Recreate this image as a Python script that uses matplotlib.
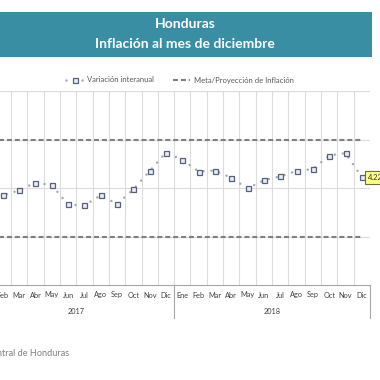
import matplotlib
matplotlib.use("Agg")
import matplotlib.pyplot as plt
from matplotlib.lines import Line2D
from matplotlib.patches import Rectangle
import matplotlib.transforms as mtransforms

plt.rcParams['font.family'] = ['Lato', 'DejaVu Sans']

# ---- data ----
months = ["Ene", "Feb", "Mar", "Abr", "May", "Jun", "Jul", "Ago", "Sep", "Oct", "Nov", "Dic"]
years = ["2017", "2018"]
inflation = [3.80, 3.85, 3.95, 4.11, 4.06, 3.66, 3.64, 3.85, 3.67, 3.97, 4.35, 4.73,
             4.58, 4.34, 4.36, 4.21, 3.99, 4.16, 4.24, 4.35, 4.39, 4.67, 4.72, 4.22]
meta_center = 4.0
meta_band = 1.0
last_label = "4.22"
title_1 = "Honduras"
title_2 = "Inflación al mes de diciembre"
legend_labels = ["Variación interanual", "Meta/Proyección de Inflación"]
source = "Fuente: Banco Central de Honduras"

W = H = 380
fig = plt.figure(figsize=(3.8, 3.8), dpi=100)
fig.patch.set_facecolor("white")

def fx(px):
    return px / W

def fy(py):
    return 1 - py / H

# title banner
fig.patches.append(Rectangle((fx(0), fy(57)), fx(372), (57 - 12) / H,
                             transform=fig.transFigure, facecolor="#3a8ea4",
                             edgecolor="none", zorder=0))
fig.text(fx(185), fy(23.5), title_1, color="white", fontsize=10, fontweight="bold",
         ha="center", va="center")
fig.text(fx(185), fy(44.5), title_2, color="white", fontsize=10, fontweight="bold",
         ha="center", va="center")

# axes (left part cropped by figure edge)
left_px, right_px, top_px, bot_px = -21.7, 370, 91, 285
ax = fig.add_axes([fx(left_px), fy(bot_px), fx(right_px - left_px), (bot_px - top_px) / H])
ax.set_facecolor("none")

n = len(inflation)
x = list(range(n))
ax.set_xlim(-0.5, n - 0.5)
ax.set_ylim(2, 6)

grid_c = "#dcdcdc"
for b in range(n + 1):
    ax.axvline(b - 0.5, color=grid_c, lw=0.8, zorder=0)
for v in [3, 4, 5, 6]:
    ax.axhline(v, color=grid_c, lw=0.8, zorder=0)

for s in ["top", "left", "right"]:
    ax.spines[s].set_visible(False)
ax.spines["bottom"].set_color("#a6a6a6")
ax.spines["bottom"].set_linewidth(0.8)
ax.set_xticks([])
ax.set_yticks([])

# meta band
ax.plot([x[0], x[-1]], [meta_center + meta_band] * 2, color="#7f7f7f", lw=1.5,
        linestyle=(0, (2.4, 1.4)), zorder=2)
ax.plot([x[0], x[-1]], [meta_center - meta_band] * 2, color="#7f7f7f", lw=1.5,
        linestyle=(0, (2.4, 1.4)), zorder=2)

# series
ax.plot(x, inflation, color="#a4a8b2", lw=1.8, linestyle=(0, (0.01, 3.2)),
        dash_capstyle="round", zorder=3)
ax.plot(x, inflation, ls="none", marker="s", ms=3.6, mfc="#e8ebf2", mec="#56607a",
        mew=0.9, zorder=4)

ax.annotate(last_label, xy=(x[-1], inflation[-1]), xytext=(6, 0),
            textcoords="offset pixels", ha="left", va="center", fontsize=5.5,
            color="#333333", annotation_clip=False,
            bbox=dict(boxstyle="square,pad=0.35", fc="#ffff8c", ec="#6e6e3a", lw=0.8),
            zorder=5)

# category labels
trans = mtransforms.blended_transform_factory(ax.transData, ax.transAxes)
axh = bot_px - top_px
for i in range(n):
    ax.text(i, -10 / axh, months[i % 12], transform=trans, ha="center", va="center",
            fontsize=5.3, color="#404040", clip_on=False)
for k, yr in enumerate(years):
    ax.text(k * 12 + 5.5, -26 / axh, yr, transform=trans, ha="center", va="center",
            fontsize=5.3, color="#404040", clip_on=False)
for b in [-0.5, 11.5, 23.5]:
    ax.add_line(Line2D([b, b], [0, -33 / axh], transform=trans, color="#a6a6a6",
                       lw=0.8, clip_on=False))

# legend
h1 = (Line2D([0], [0], color="#a4a8b2", lw=1.8, linestyle=(0, (0.01, 3.2)),
             dash_capstyle="round"),
      Line2D([0], [0], ls="none", marker="s", ms=3.6, mfc="#e8ebf2", mec="#56607a", mew=0.9))
h2 = Line2D([0], [0], color="#7f7f7f", lw=1.5, linestyle=(0, (2.4, 1.4)))
fig.legend([h1, h2], legend_labels, loc="center", bbox_to_anchor=(fx(180), fy(80)),
           ncol=2, frameon=False, fontsize=5.5, handlelength=2.2, columnspacing=2.5,
           handletextpad=0.5, labelcolor="#595959")

# source
fig.text(fx(69), fy(353), source, ha="right", va="center", fontsize=6.6, color="#7f7f7f")

fig.savefig("out.png", dpi=100, facecolor="white")
